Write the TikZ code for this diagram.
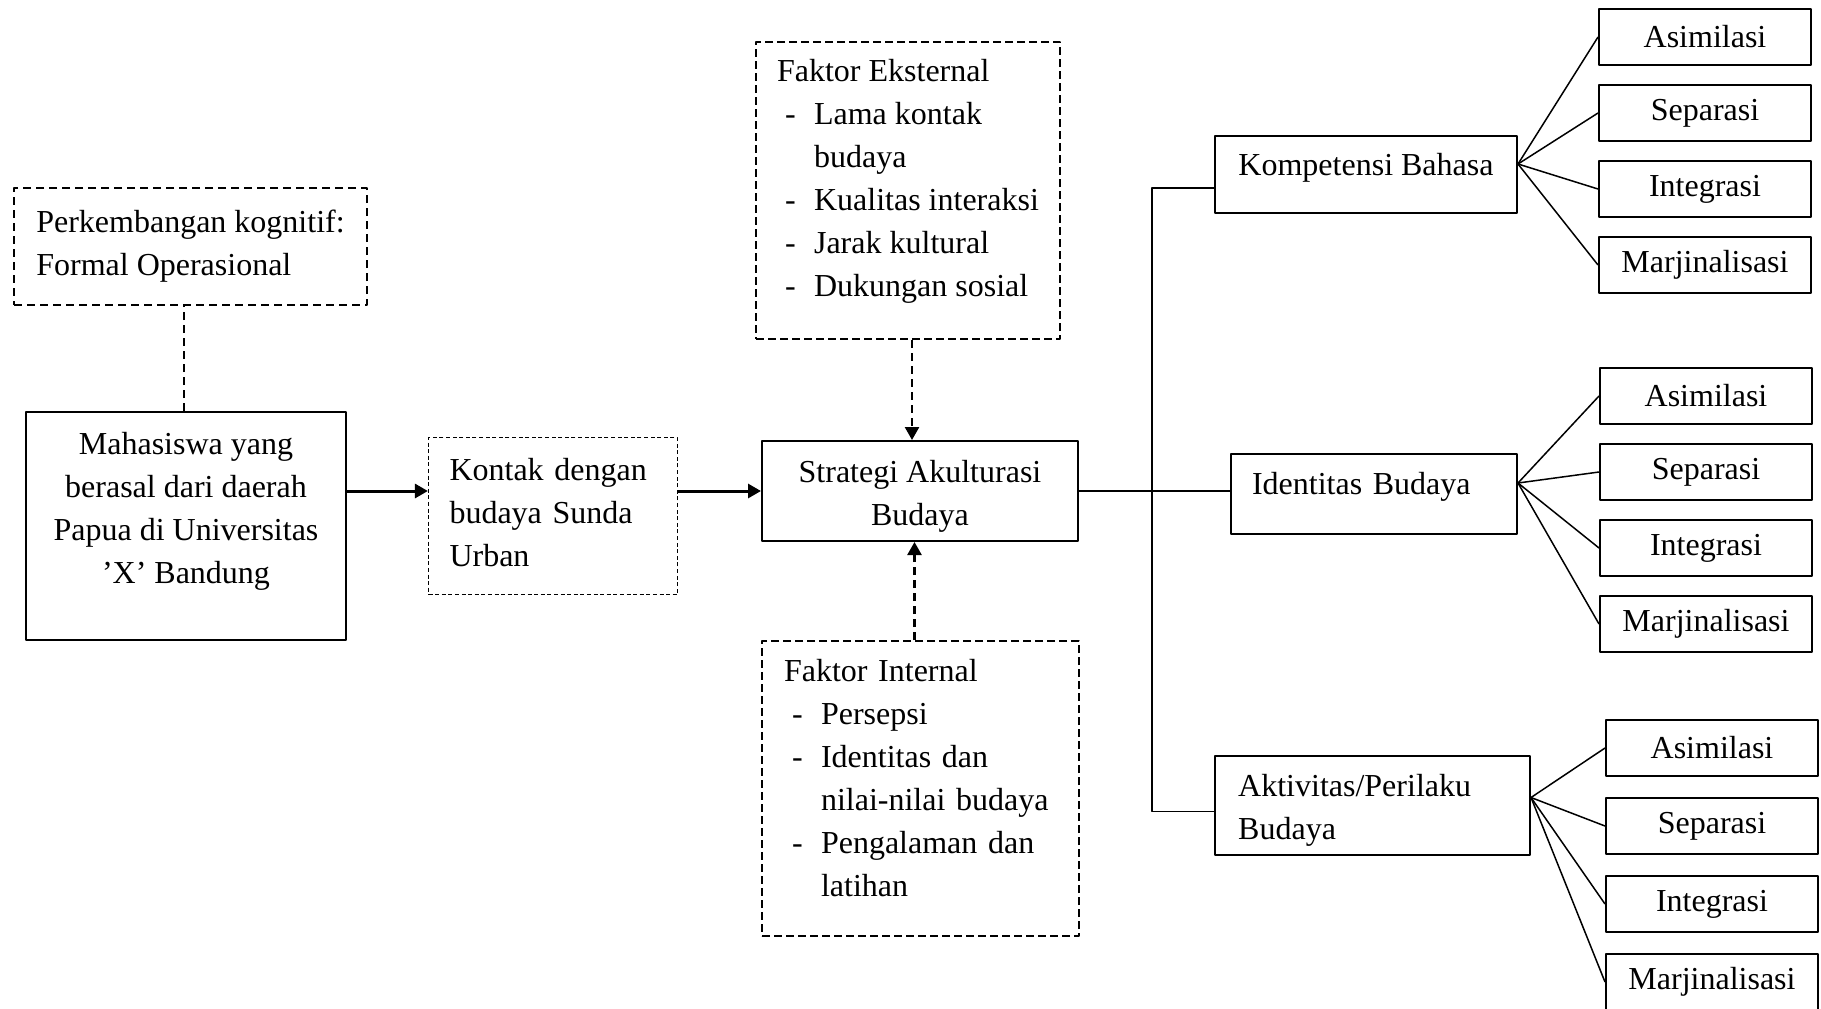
\documentclass[tikz,border=0pt]{standalone}
\usepackage{fontspec}
\setmainfont{Liberation Serif}
\usetikzlibrary{arrows.meta}
\newcommand{\butir}{\hspace*{4pt}\makebox[14.5pt][l]{-}}
\newcommand{\lanjut}{\hspace*{18.5pt}}

\begin{document}
\begin{tikzpicture}[x=0.5pt,y=-0.5pt,>={Triangle[length=6.5pt,width=7pt]},line join=round,
	font=\fontsize{16}{21.5}\selectfont,
	kotak/.style={draw,line width=1pt,inner sep=0pt},
	putus/.style={draw,line width=1pt,dash pattern=on 4pt off 2pt,inner sep=0pt},
	halus/.style={draw,line width=0.6pt,dash pattern=on 2pt off 1.3pt,inner sep=0pt},
	pilihan/.style={kotak,minimum width=106pt,minimum height=28pt},
	panah/.style={->,line width=1.5pt},
	garisputus/.style={line width=0.9pt,dash pattern=on 4pt off 2.5pt},
	garis/.style={line width=0.8pt}]
	\useasboundingbox (0,0) rectangle (1821,1008);
	% sebelah kiri
	\node[putus,dash pattern=on 4pt off 2.5pt,minimum width=176.5pt,minimum height=58.5pt,align=left] (pk) at (190.5,246.5) {Perkembangan kognitif:\\Formal Operasional};
	\node[kotak,minimum width=160pt,minimum height=114pt,align=center,text depth=18.5pt] (mhs) at (186,526) {Mahasiswa yang\\berasal dari daerah\\Papua di Universitas\\'X' Bandung};
	\node[halus,minimum width=124.5pt,minimum height=78.5pt,text width=103.5pt,align=left,text depth=46.5pt] (kontak) at (553,516) {Kontak dengan\\budaya Sunda\\Urban};
	% tengah
	\node[kotak,minimum width=158pt,minimum height=50pt,align=center,text height=37.6pt] (sak) at (920,491) {Strategi Akulturasi\\Budaya};
	\node[putus,minimum width=152pt,minimum height=148.5pt,align=left,text depth=12.5pt] (feks) at (908,190.5) {Faktor Eksternal\\\butir Lama kontak\\\lanjut budaya\\\butir Kualitas interaksi\\\butir Jarak kultural\\\butir Dukungan sosial};
	\node[putus,minimum width=158.5pt,minimum height=147.5pt,text width=136.5pt,align=left,text depth=118pt] (fint) at (920.5,788.5) {Faktor Internal\\\butir Persepsi\\\butir Identitas dan\\\lanjut nilai-nilai budaya\\\butir Pengalaman dan\\\lanjut latihan};
	% aspek
	\node[kotak,minimum width=151pt,minimum height=38.5pt,align=left,text depth=9.5pt] (kb) at (1366,174) {Kompetensi Bahasa};
	\node[kotak,minimum width=143pt,minimum height=40pt,text width=122pt,align=left,text depth=10.5pt] (idb) at (1374,494) {Identitas Budaya};
	\node[kotak,minimum width=157.5pt,minimum height=49.5pt,text width=134.3pt,align=left,text depth=20.4pt] (akt) at (1372.5,805.5) {Aktivitas/Perilaku\\Budaya};
	
	\draw[garisputus] ([xshift=-1pt]mhs.north) -- ([xshift=-1pt]mhs.north |- pk.south);
	\draw[panah] (mhs.east |- sak.west) -- (kontak.west |- sak.west);
	\draw[panah] (kontak.east |- sak.west) -- (sak.west);
	\draw[garisputus,->,line width=1.2pt] ([xshift=2pt]feks.south) -- ([xshift=2pt]feks.south |- sak.north);
	\draw[garisputus,->,line width=1.2pt] ([xshift=-3pt]fint.north) -- ([xshift=-3pt]fint.north |- sak.south);
	\coordinate (cab) at (1152,491);
	\draw[garis] (sak.east) -- (sak.east -| idb.west);
	\draw[garis] ([yshift=-7pt]kb.west) -| (cab) |- ([yshift=-3pt]akt.west);
	
	% strategi
	\foreach \grup/\xk/\ya/\dy/\asal/\geser in {a/1705/37/76/kb/5pt,b/1706/396/76/idb/5.5pt,c/1712/748/78/akt/4pt}{
		\foreach \nama [count=\i] in {Asimilasi,Separasi,Integrasi,Marjinalisasi}{
			\node[pilihan] (\grup\i) at (\xk,{\ya+\dy*(\i-1)}) {\nama};
			\draw[line width=0.75pt] ([yshift=\geser]\asal.east) -- (\grup\i.west);
		}
	}
\end{tikzpicture}
\end{document}
